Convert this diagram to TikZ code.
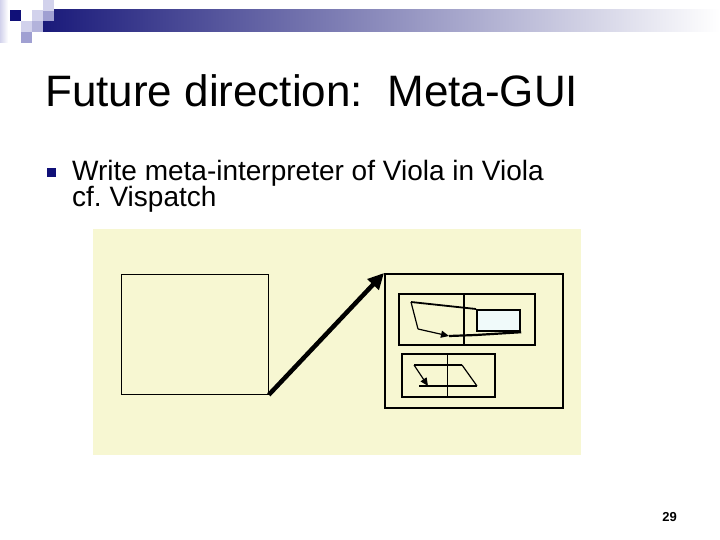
\documentclass[tikz,border=0pt]{standalone}
\usepackage{fontspec}
\setmainfont{Liberation Sans}
\usepackage{xcolor}
\usetikzlibrary{arrows.meta, positioning}

\definecolor{hdrnavy}{RGB}{26,26,122}
\definecolor{hdrmid}{RGB}{150,150,190}
\definecolor{sqdark}{RGB}{16,16,120}
\definecolor{sqlight}{RGB}{210,210,236}
\definecolor{sqmed}{RGB}{160,160,210}
\definecolor{panelyellow}{RGB}{247,247,210}
\definecolor{winfill}{RGB}{240,250,250}

\begin{document}
\begin{tikzpicture}[x=1pt, y=-1pt,
        box/.style={draw, anchor=north west, inner sep=0pt},
        sq/.style={anchor=north west, inner sep=0pt, minimum size=11pt},
        bigarrow/.style={line width=4.5pt, -{Triangle[length=16pt, width=15pt]}},
        smallarrow/.style={line width=1.2pt, -{Triangle[length=8pt, width=7pt]}}]

        \useasboundingbox (0,0) rectangle (720,540);

        % header bar and squares
        \shade[left color=hdrnavy, middle color=hdrmid, right color=white] (43,10) rectangle (720,32);
        \shade[left color=sqlight, right color=white] (0,0) rectangle (8,43);
        \node[sq, fill=sqdark] (sq_a) at (10,10) {};
        \node[sq, fill=sqlight] (sq_b) at (32,10) {};
        \node[sq, fill=sqmed] (sq_c) at (43,10) {};
        \node[sq, fill=sqlight] (sq_d) at (43,0) {};
        \node[sq, fill=sqlight] (sq_e) at (21,21) {};
        \node[sq, fill=sqmed!80] (sq_f) at (32,21) {};
        \node[sq, fill=sqmed] (sq_g) at (21,32) {};

        % title and bullet
        \node[anchor=base west, inner sep=0pt, font=\fontsize{44}{50}\selectfont] (title) at (45,107) {Future direction:\ \ Meta-GUI};
        \node[fill=sqdark, minimum size=9pt, inner sep=0pt, anchor=north west] (bullet) at (47,168) {};
        \node[anchor=base west, inner sep=0pt, font=\fontsize{28}{30}\selectfont] (line_1) at (72,181) {Write meta-interpreter of Viola in Viola};
        \node[anchor=base west, inner sep=0pt, font=\fontsize{28}{30}\selectfont] (line_2) at (72,207) {cf.\ Vispatch};
        \node[anchor=base east, inner sep=0pt, font=\bfseries\fontsize{13}{15}\selectfont] (pagenum) at (677,521) {29};

        % picture panel
        \node[anchor=north west, inner sep=0pt, fill=panelyellow, minimum width=488pt, minimum height=226pt] (panel) at (93,229) {};
        \node[box, line width=0.8pt, minimum width=147pt, minimum height=120pt] (src) at (121,274) {};
        \node[box, line width=2.2pt, minimum width=178pt, minimum height=134pt] (dst) at (384,273) {};
        \draw[bigarrow] (src.south east) -- (dst.north west);

        % upper window
        \node[box, line width=1.6pt, minimum width=136pt, minimum height=51pt] (win_a) at (398,293) {};
        \draw[line width=2.4pt] (464,293) -- (464,344);
        \node[box, line width=2.2pt, fill=winfill, minimum width=43pt, minimum height=21pt] (panel_a) at (476,309) {};
        \coordinate (p_1) at (411,302);
        \coordinate (p_2) at (418,329);
        \coordinate (p_3) at (449,336);
        \draw[line width=1.8pt] (p_1) -- (panel_a.north west);
        \draw[line width=1.2pt] (p_1) -- (p_2);
        \draw[smallarrow] (p_2) -- (p_3);
        \draw[line width=2.2pt] (p_3) -- (476,335) -- (panel_a.south east);

        % lower window
        \node[box, line width=1.6pt, minimum width=93pt, minimum height=43pt] (win_b) at (401,353) {};
        \draw[line width=1pt] (447,353) -- (447,396);
        \coordinate (q_1) at (414,365);
        \coordinate (q_2) at (462,365);
        \coordinate (q_3) at (477,386);
        \coordinate (q_4) at (428,386);
        \draw[line width=2.2pt] (q_1) -- (q_2);
        \draw[line width=1.2pt] (q_2) -- (q_3);
        \draw[line width=2.2pt] (419,386) -- (q_3);
        \draw[smallarrow] (q_1) -- (q_4);

\end{tikzpicture}
\end{document}
